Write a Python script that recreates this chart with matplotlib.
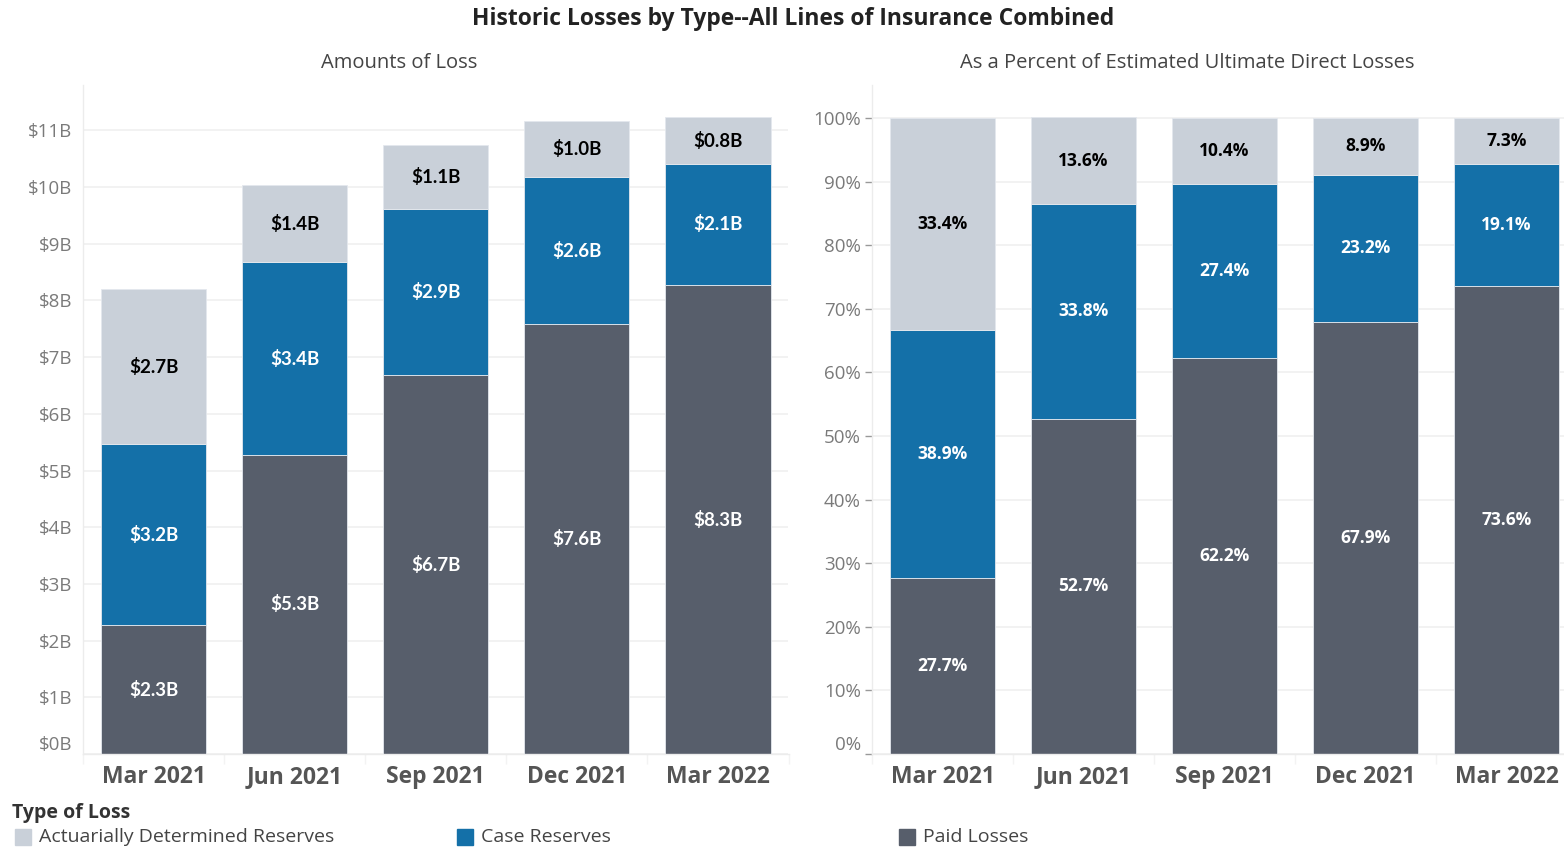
"""Historic losses by type, amounts and percent of estimated ultimate direct losses."""

import matplotlib

matplotlib.use("Agg")
import matplotlib.pyplot as plt
from matplotlib.patches import Rectangle
import numpy as np

quarters = ["Mar 2021", "Jun 2021", "Sep 2021", "Dec 2021", "Mar 2022"]
loss_types = ["Actuarially Determined Reserves", "Case Reserves", "Paid Losses"]

# amounts in $B
paid_amount = [2.27, 5.28, 6.68, 7.58, 8.27]
case_amount = [3.19, 3.39, 2.94, 2.59, 2.14]
adr_amount = [2.74, 1.36, 1.12, 0.99, 0.82]

# percent of estimated ultimate direct losses
paid_pct = [27.7, 52.7, 62.2, 67.9, 73.6]
case_pct = [38.9, 33.8, 27.4, 23.2, 19.1]
adr_pct = [33.4, 13.6, 10.4, 8.9, 7.3]

amount_ticks = list(range(0, 12))
pct_ticks = list(range(0, 101, 10))

COLORS = {
    "Paid Losses": "#575e6b",
    "Case Reserves": "#1470a8",
    "Actuarially Determined Reserves": "#c9d0d9",
}
LABEL_COLORS = {
    "Paid Losses": "white",
    "Case Reserves": "white",
    "Actuarially Determined Reserves": "black",
}

W, H = 1564, 847


def px_axes(fig, left, top, right, bottom):
    return fig.add_axes([left / W, 1 - bottom / H, (right - left) / W, (bottom - top) / H])


def style_axes(ax, ymax, ticks, fmt, tick_marks):
    x = np.arange(len(quarters))
    ax.set_xlim(-0.5, len(quarters) - 0.5)
    ax.set_ylim(0, ymax)
    ax.set_yticks(ticks)
    ax.set_yticklabels([fmt(t) for t in ticks], fontsize=13.5, color="#7a7a7a", family="Open Sans")
    ax.yaxis.grid(True, color="#f0f0f0", linewidth=1.2)
    ax.set_axisbelow(True)
    ax.set_xticks(x)
    ax.set_xticklabels(quarters, fontsize=16.5, fontweight="bold", color="#555555", family="Open Sans")
    ax.set_xticks(np.arange(len(quarters) + 1) - 0.5, minor=True)
    ax.tick_params(axis="x", which="major", length=0, pad=8)
    ax.tick_params(axis="x", which="minor", length=7, color="#f3f3f3", width=1)
    if tick_marks:
        ax.tick_params(axis="y", length=5, color="#999999", width=1, pad=3)
    else:
        ax.tick_params(axis="y", length=0, pad=8)
    for side in ("top", "right"):
        ax.spines[side].set_visible(False)
    for side in ("left", "bottom"):
        ax.spines[side].set_color("#ececec")
        ax.spines[side].set_linewidth(1)
    ax.get_yticklabels()[0].set_verticalalignment("bottom")


def stacked(ax, series, fmt, font, size):
    x = np.arange(len(quarters))
    bottom = np.zeros(len(quarters))
    for name, values in series:
        values = np.asarray(values, dtype=float)
        ax.bar(x, values, bottom=bottom, width=0.745, color=COLORS[name],
               edgecolor="#e4e8ee", linewidth=0.6, zorder=2)
        for xi, b, v in zip(x, bottom, values):
            ax.text(xi, b + v / 2, fmt(v), ha="center", va="center", fontsize=size,
                    fontweight="bold", color=LABEL_COLORS[name], family=font, zorder=3)
        bottom += values


fig = plt.figure(figsize=(W / 100, H / 100), dpi=100)
fig.patch.set_facecolor("white")

ax1 = px_axes(fig, 83, 85, 788.5, 754)
stacked(ax1, [("Paid Losses", paid_amount), ("Case Reserves", case_amount),
              ("Actuarially Determined Reserves", adr_amount)],
        lambda v: f"${v:.1f}B", "Lato", 13.5)
style_axes(ax1, 11.8, amount_ticks, lambda t: f"${t}B", tick_marks=False)

ax2 = px_axes(fig, 872, 85, 1577, 754)
stacked(ax2, [("Paid Losses", paid_pct), ("Case Reserves", case_pct),
              ("Actuarially Determined Reserves", adr_pct)],
        lambda v: f"{v:.1f}%", "Open Sans", 12.5)
style_axes(ax2, 105.2, pct_ticks, lambda t: f"{t}%", tick_marks=True)

fig.text(793 / W, 1 - 19 / H, "Historic Losses by Type--All Lines of Insurance Combined",
         ha="center", va="center", fontsize=16.5, fontweight="bold", color="#222222", family="Open Sans")
fig.text(399 / W, 1 - 63 / H, "Amounts of Loss", ha="center", va="center",
         fontsize=14.5, color="#444444", family="Open Sans")
fig.text(1187 / W, 1 - 63 / H, "As a Percent of Estimated Ultimate Direct Losses", ha="center",
         va="center", fontsize=14.5, color="#444444", family="Open Sans")

# legend
fig.text(12 / W, 1 - 813 / H, "Type of Loss", ha="left", va="center", fontsize=14,
         fontweight="bold", color="#333333", family="Open Sans")
legend_x = [15, 457, 899]
for lx, name in zip(legend_x, loss_types):
    fig.patches.append(Rectangle((lx / W, 1 - 845 / H), 16 / W, 16 / H,
                                 transform=fig.transFigure, color=COLORS[name]))
    fig.text((lx + 24) / W, 1 - 837 / H, name, ha="left", va="center", fontsize=14,
             color="#444444", family="Open Sans")

fig.savefig("out.png", dpi=100)
